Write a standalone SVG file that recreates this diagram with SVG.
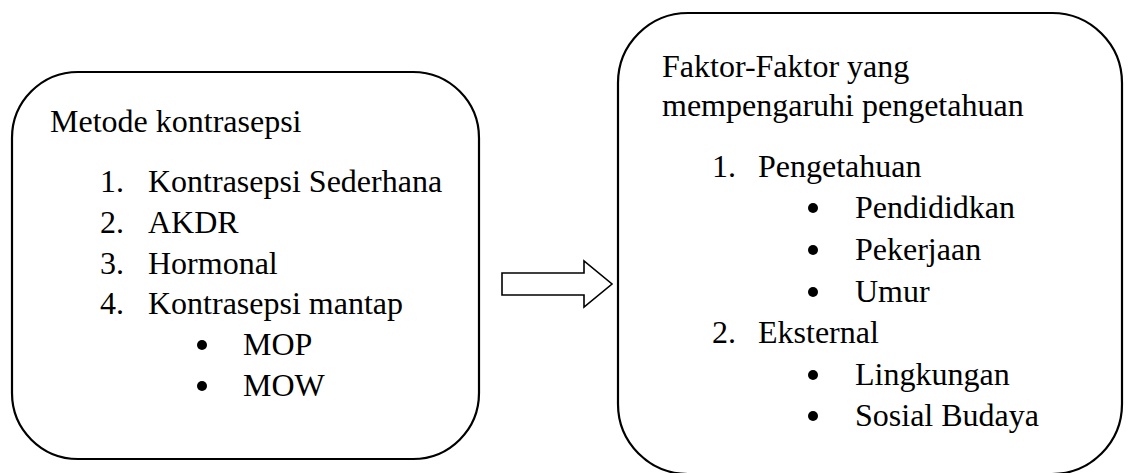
<svg xmlns="http://www.w3.org/2000/svg" width="1138" height="473" viewBox="0 0 1138 473">
<style>
.box{fill:#fff;stroke:#000;stroke-width:2.2}
text{font-family:'Liberation Serif','Times New Roman',serif;font-size:32px;fill:#000}
.b{fill:#000}
.arrow{fill:#fff;stroke:#000;stroke-width:1.6;stroke-linejoin:miter}
</style>
<rect width="1138" height="473" fill="#fff"/>
<g id="node-metode">
<rect class="box" x="12" y="72" width="467" height="387" rx="66" ry="66"/>
<text x="50" y="132">Metode kontrasepsi</text>
<text x="100" y="192">1.</text><text x="148" y="192">Kontrasepsi Sederhana</text>
<text x="100" y="233">2.</text><text x="148" y="233">AKDR</text>
<text x="100" y="274">3.</text><text x="148" y="274">Hormonal</text>
<text x="100" y="314">4.</text><text x="148" y="314">Kontrasepsi mantap</text>
<circle class="b" cx="202" cy="345" r="5"/><text x="243" y="355">MOP</text>
<circle class="b" cx="202" cy="386" r="5"/><text x="243" y="396">MOW</text>
</g>
<g id="connectors">
<polygon class="arrow" points="502,273 584,273 584,261 612,284 584,307 584,295 502,295"/>
</g>
<g id="node-faktor">
<rect class="box" x="618" y="13" width="504" height="461" rx="70" ry="70"/>
<text x="662" y="77">Faktor-Faktor yang</text>
<text x="662" y="116">mempengaruhi pengetahuan</text>
<text x="712" y="177">1.</text><text x="758" y="177">Pengetahuan</text>
<circle class="b" cx="813" cy="208" r="5"/><text x="855" y="218">Pendididkan</text>
<circle class="b" cx="813" cy="250" r="5"/><text x="855" y="260">Pekerjaan</text>
<circle class="b" cx="813" cy="292" r="5"/><text x="855" y="302">Umur</text>
<text x="712" y="343">2.</text><text x="758" y="343">Eksternal</text>
<circle class="b" cx="813" cy="375" r="5"/><text x="855" y="385">Lingkungan</text>
<circle class="b" cx="813" cy="416" r="5"/><text x="855" y="426">Sosial Budaya</text>
</g>
</svg>
